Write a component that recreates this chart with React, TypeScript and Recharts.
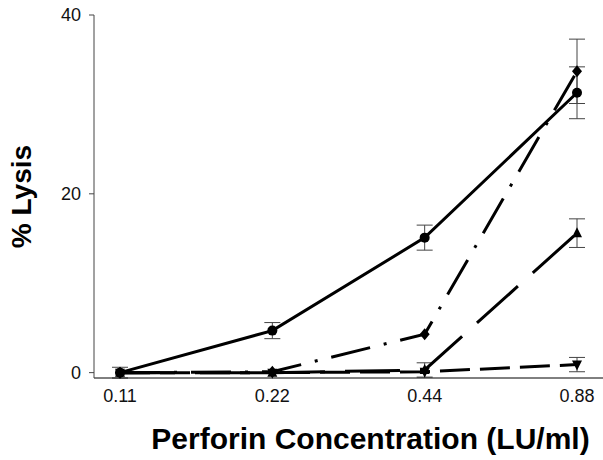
import React from 'react';
import { LineChart, Line, XAxis, YAxis, ErrorBar, Label } from 'recharts';

const concentrations = ['0.11', '0.22', '0.44', '0.88'];
const circleLysis = [0, 4.7, 15.1, 31.3];
const circleErr = [0.6, 0.9, 1.4, 2.9];
const diamondLysis = [0, 0.1, 4.3, 33.7];
const diamondErr = [null, null, null, 3.6];
const triangleLysis = [0, 0, 0.3, 15.6];
const triangleErr = [null, null, 0.8, 1.6];
const invTriLysis = [0, 0, 0.1, 0.9];
const invTriErr = [null, null, null, 0.8];
const yTicks = [0, 20, 40];

const data = concentrations.map((c, i) => ({
  conc: c,
  circle: circleLysis[i],
  circleErr: circleErr[i],
  diamond: diamondLysis[i],
  diamondErr: diamondErr[i],
  triangle: triangleLysis[i],
  triangleErr: triangleErr[i],
  invTri: invTriLysis[i],
  invTriErr: invTriErr[i],
}));

const FONT = '"Liberation Sans", Arial, sans-serif';

const CircleDot = (p: any) => <circle key={p.index} cx={p.cx} cy={p.cy} r={5} fill="#000" />;

const DiamondDot = (p: any) => (
  <polygon
    key={p.index}
    points={`${p.cx},${p.cy - 6} ${p.cx + 5},${p.cy} ${p.cx},${p.cy + 6} ${p.cx - 5},${p.cy}`}
    fill="#000"
  />
);

const TriangleDot = (p: any) => (
  <polygon
    key={p.index}
    points={`${p.cx},${p.cy - 6} ${p.cx + 5},${p.cy + 4} ${p.cx - 5},${p.cy + 4}`}
    fill="#000"
  />
);

const InvTriDot = (p: any) => (
  <polygon
    key={p.index}
    points={`${p.cx - 5},${p.cy - 4} ${p.cx + 5},${p.cy - 4} ${p.cx},${p.cy + 6}`}
    fill="#000"
  />
);

export default function App() {
  return (
    <div style={{ position: 'absolute', left: 0, top: 0, background: '#fff' }}>
      <LineChart
        width={603}
        height={460}
        data={data}
        margin={{ top: 15, right: 0, left: 0, bottom: 0 }}
      >
        <XAxis
          dataKey="conc"
          height={82}
          padding={{ left: 26, right: 26 }}
          axisLine={{ stroke: '#000', strokeWidth: 1 }}
          tickLine={false}
          tickSize={8}
          tickMargin={3}
          tick={{ fill: '#111', fontSize: 18, fontFamily: FONT }}
        >
          <Label
            content={({ viewBox }: any) => (
              <text
                x={viewBox.x + viewBox.width / 2 + 22}
                y={viewBox.y + 71}
                textAnchor="middle"
                fontFamily={FONT}
                fontWeight="bold"
                fontSize={30}
                fill="#000"
              >
                Perforin Concentration (LU/ml)
              </text>
            )}
          />
        </XAxis>
        <YAxis
          width={94}
          domain={[0, 40]}
          ticks={yTicks}
          axisLine={{ stroke: '#444', strokeWidth: 1 }}
          tickLine={{ stroke: '#444' }}
          tickSize={5}
          tickMargin={8}
          tick={{ fill: '#111', fontSize: 18, fontFamily: FONT }}
        >
          <Label
            content={({ viewBox }: any) => {
              const cx = 21;
              const cy = viewBox.y + viewBox.height / 2;
              return (
                <text
                  x={cx}
                  y={cy}
                  transform={`rotate(-90, ${cx}, ${cy})`}
                  textAnchor="middle"
                  dominantBaseline="central"
                  fontFamily={FONT}
                  fontWeight="bold"
                  fontSize={28}
                  fill="#000"
                >
                  % Lysis
                </text>
              );
            }}
          />
        </YAxis>
        <Line
          dataKey="invTri"
          stroke="#000"
          strokeWidth={3}
          strokeDasharray="30 10"
          dot={InvTriDot}
          isAnimationActive={false}
        >
          <ErrorBar dataKey="invTriErr" width={8} stroke="#444" strokeWidth={1} />
        </Line>
        <Line
          dataKey="triangle"
          stroke="#000"
          strokeWidth={3}
          strokeDasharray="55 20"
          dot={TriangleDot}
          isAnimationActive={false}
        >
          <ErrorBar dataKey="triangleErr" width={8} stroke="#444" strokeWidth={1} />
        </Line>
        <Line
          dataKey="diamond"
          stroke="#000"
          strokeWidth={3}
          strokeDasharray="40 14 3 14"
          dot={DiamondDot}
          isAnimationActive={false}
        >
          <ErrorBar dataKey="diamondErr" width={8} stroke="#444" strokeWidth={1} />
        </Line>
        <Line
          dataKey="circle"
          stroke="#000"
          strokeWidth={3}
          dot={CircleDot}
          isAnimationActive={false}
        >
          <ErrorBar dataKey="circleErr" width={8} stroke="#444" strokeWidth={1} />
        </Line>
      </LineChart>
    </div>
  );
}
